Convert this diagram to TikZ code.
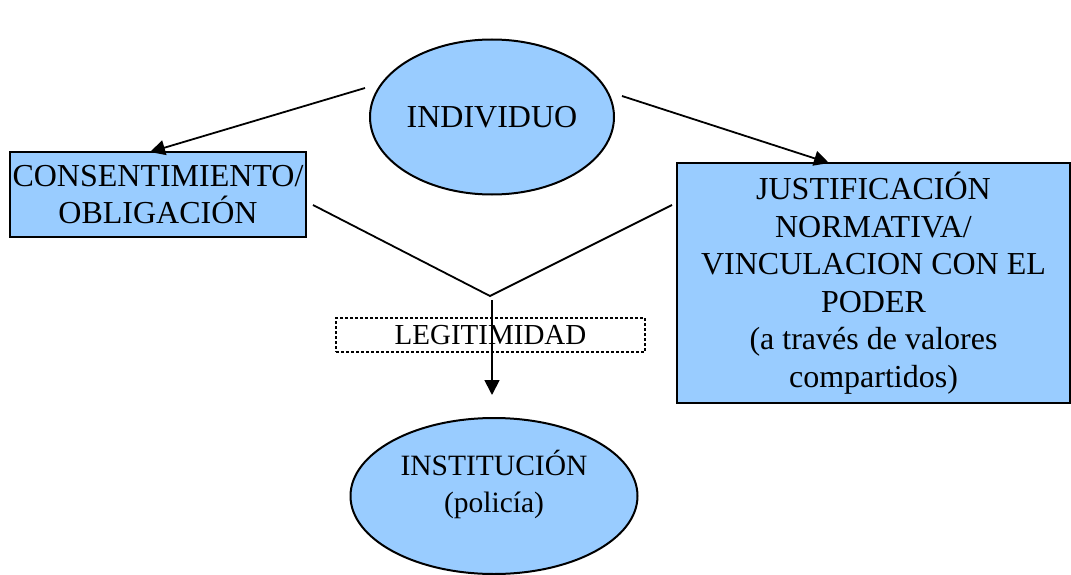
\documentclass[tikz,border=0pt]{standalone}
\usepackage{fontspec}
\setmainfont{Liberation Serif}
\usetikzlibrary{shapes.geometric,arrows.meta}
\begin{document}
\begin{tikzpicture}[x=1pt,y=-1pt,
  blue/.style={draw=black,line width=2pt,fill={rgb,255:red,153;green,204;blue,255},inner sep=0pt},
  txt/.style={font=\fontsize{32}{37.5}\selectfont,align=center},
  conn/.style={line width=1.8pt},
  arr/.style={conn,-{Triangle[length=15pt,width=15pt]}}]
\useasboundingbox (0,0) rectangle (1071,575);
\node[blue,ellipse,minimum width=244,minimum height=155,txt] (ind) at (492,117) {INDIVIDUO};
\node[blue,rectangle,minimum width=296,minimum height=85,txt] (cons) at (158,194.5) {CONSENTIMIENTO/\\OBLIGACIÓN};
\node[blue,rectangle,minimum width=393,minimum height=240,txt] (just) at (873.5,283) {JUSTIFICACIÓN\\NORMATIVA/\\VINCULACION CON EL\\PODER\\(a través de valores\\compartidos)};
\node[blue,ellipse,minimum width=287,minimum height=156,txt,font=\fontsize{29.5}{37}\selectfont] (inst) at (494,496) {INSTITUCIÓN\\(policía)\\[-8pt]};
\node[draw=black,densely dashed,line width=1.3pt,minimum width=309,minimum height=34,inner sep=0pt,txt,font=\fontsize{29}{30}\selectfont] (leg) at (490.5,335) {LEGITIMIDAD};
\coordinate (a1) at (365,88);
\coordinate (a2) at (150,152);
\coordinate (b1) at (622,96);
\coordinate (b2) at (829,163);
\coordinate (l1) at (313,205);
\coordinate (r1) at (672,205);
\coordinate (m) at (490,296);
\coordinate (v1) at (492,300);
\coordinate (v2) at (492,395);
\draw[arr] (a1) -- (a2);
\draw[arr] (b1) -- (b2);
\draw[conn] (l1) -- (m) -- (r1);
\draw[arr] (v1) -- (v2);
\end{tikzpicture}
\end{document}
